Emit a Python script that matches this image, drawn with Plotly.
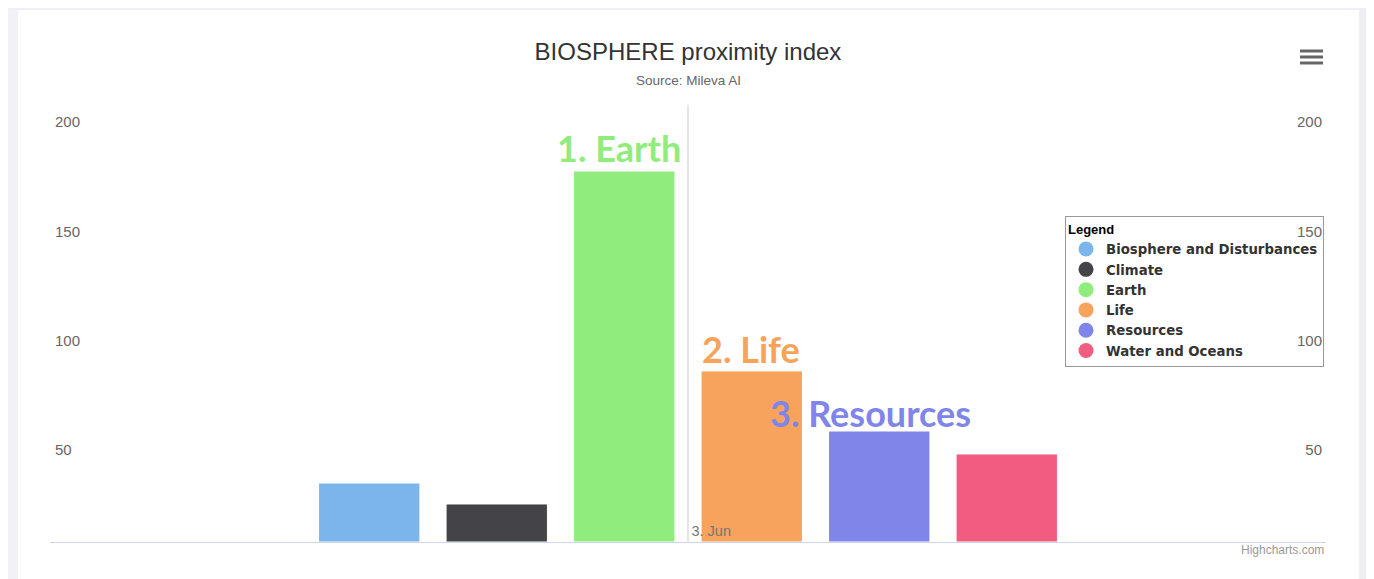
import plotly.graph_objects as go

# ---------------- data ----------------
categories = ["3. Jun"]
series_names = ["Biosphere and Disturbances", "Climate", "Earth", "Life", "Resources", "Water and Oceans"]
series_values = [27.0, 17.4, 169.8, 78.3, 50.8, 40.3]
series_colors = ["#7cb5ec", "#434348", "#90ed7d", "#f7a35c", "#8085e9", "#f15c80"]
y_tick_values = [50, 100, 150, 200]
y_tick_labels = ["50", "100", "150", "200"]
rank_labels = {"Earth": "1. Earth", "Life": "2. Life", "Resources": "3. Resources"}

# ---------------- layout constants (page pixels; the page body has an 8px margin) ----------------
OFF = 8
W, H = 1374 - OFF, 579 - OFF
PLOT_L, PLOT_R, PLOT_T, PLOT_B = 50, 1326, 105, 542          # plot area in page pixels
ML, MT = PLOT_L - OFF, PLOT_T - OFF
MR, MB = W - (PLOT_R - OFF), H - (PLOT_B - OFF)
PW, PH = PLOT_R - PLOT_L, PLOT_B - PLOT_T
BARGAP, GROUPGAP = 0.2, 0.205
XR = (1 - BARGAP) * PW / (2 * 765.0)
label_shift = {"Earth": (-19, 23), "Life": (-1, 22), "Resources": (-61, 18)}


def px_x(px):
    return (px - PLOT_L) / PW


def px_y(py):
    return (PLOT_B - py) / PH


fig = go.Figure()
for name, val, col in zip(series_names, series_values, series_colors):
    fig.add_trace(go.Bar(
        x=categories, y=[val], name=name, marker=dict(color=col, line=dict(color="#ffffff", width=1)),
        showlegend=False, legendgroup=name, hovertemplate=name + ": %{y}<extra></extra>",
    ))
# legend entries with circle symbols
for name, col in zip(series_names, series_colors):
    fig.add_trace(go.Scatter(
        x=[None], y=[None], mode="markers", name=name, legendgroup=name,
        marker=dict(color=col, size=15, symbol="circle"), yaxis="y2", hoverinfo="skip",
    ))

# ranked labels above bars
n = len(series_names)
slot = (1 - BARGAP) / n
annotations = []
for i, (name, val, col) in enumerate(zip(series_names, series_values, series_colors)):
    if name in rank_labels:
        left = -(1 - BARGAP) / 2 + i * slot + slot * GROUPGAP / 2
        dx, dy = label_shift[name]
        annotations.append(dict(
            x=left, y=val, xref="x", yref="y", text=rank_labels[name], showarrow=False,
            xanchor="left", yanchor="middle", xshift=dx, yshift=dy,
            font=dict(family="Lato", size=36, color=col, weight="bold"),
        ))

annotations.append(dict(
    x=0.5, y=px_y(81), xref="paper", yref="paper", text="Source: Mileva AI", showarrow=False,
    xanchor="center", yanchor="middle", font=dict(family="Liberation Sans", size=13.5, color="#666666"),
))
annotations.append(dict(
    x=px_x(1326), y=px_y(550), xref="paper", yref="paper", text="Highcharts.com", showarrow=False,
    xanchor="right", yanchor="middle", font=dict(family="Liberation Sans", size=12, color="#999999"),
))

shapes = [
    dict(type="rect", xref="paper", yref="paper", x0=px_x(OFF), x1=px_x(1374), y0=px_y(10), y1=px_y(OFF),
         fillcolor="#eff0f6", line=dict(width=0), layer="below"),
    dict(type="rect", xref="paper", yref="paper", x0=px_x(OFF), x1=px_x(18), y0=px_y(579), y1=px_y(10),
         fillcolor="#f1f2f7", line=dict(width=0), layer="below"),
    dict(type="rect", xref="paper", yref="paper", x0=px_x(1359), x1=px_x(1366), y0=px_y(579), y1=px_y(OFF),
         fillcolor="#eff0f6", line=dict(width=0), layer="below"),
]
for cy in (51, 57, 63):
    shapes.append(dict(type="rect", xref="paper", yref="paper", x0=px_x(1300), x1=px_x(1323),
                       y0=px_y(cy + 1.5), y1=px_y(cy - 1.5), fillcolor="#666666",
                       line=dict(width=0), layer="above"))

axis_font = dict(family="Liberation Sans", size=15, color="#666666")
fig.update_layout(
    width=W, height=H, margin=dict(l=ML, r=MR, t=MT, b=MB, autoexpand=False),
    paper_bgcolor="#ffffff", plot_bgcolor="#ffffff",
    barmode="group", bargap=BARGAP, bargroupgap=GROUPGAP,
    title=dict(
        text="BIOSPHERE proximity index", x=0.5, xref="paper", xanchor="center",
        y=1 - (52 - OFF) / H, yref="container", yanchor="middle",
        font=dict(family="Liberation Sans", size=24, color="#333333"),
    ),
    xaxis=dict(
        type="category", range=[-XR, XR], showgrid=True, gridcolor="#e6e6e6", gridwidth=1.5,
        showline=True, linecolor="#ccd6eb", linewidth=1, zeroline=False, ticks="",
        ticklabelposition="inside right", ticklabelshift=3,
        tickfont=dict(family="Liberation Sans", size=14.5, color="#777777"), fixedrange=True,
    ),
    yaxis=dict(
        range=[0, 200], tickvals=y_tick_values, ticktext=y_tick_labels, showgrid=False, zeroline=False,
        showline=False, ticks="", ticklabelposition="inside", ticklabelshift=17, ticklabelstandoff=2,
        tickfont=axis_font,
    ),
    yaxis2=dict(
        range=[0, 200], tickvals=y_tick_values, ticktext=y_tick_labels, showgrid=False, zeroline=False,
        showline=False, ticks="", overlaying="y", side="right", ticklabelposition="inside",
        ticklabelshift=17, ticklabelstandoff=1, tickfont=axis_font,
    ),
    legend=dict(
        x=px_x(1324), y=px_y(216), xanchor="right", yanchor="top",
        bgcolor="rgba(0,0,0,0)", bordercolor="#999999", borderwidth=1,
        font=dict(family="DejaVu Sans", size=13.3, color="#333333", weight="bold"),
        title=dict(text="Legend", font=dict(family="Liberation Sans", size=13, color="#000000", weight="bold")),
        itemsizing="trace", tracegroupgap=0,
    ),
    annotations=annotations, shapes=shapes, showlegend=True,
)

fig.write_html("out.html")
